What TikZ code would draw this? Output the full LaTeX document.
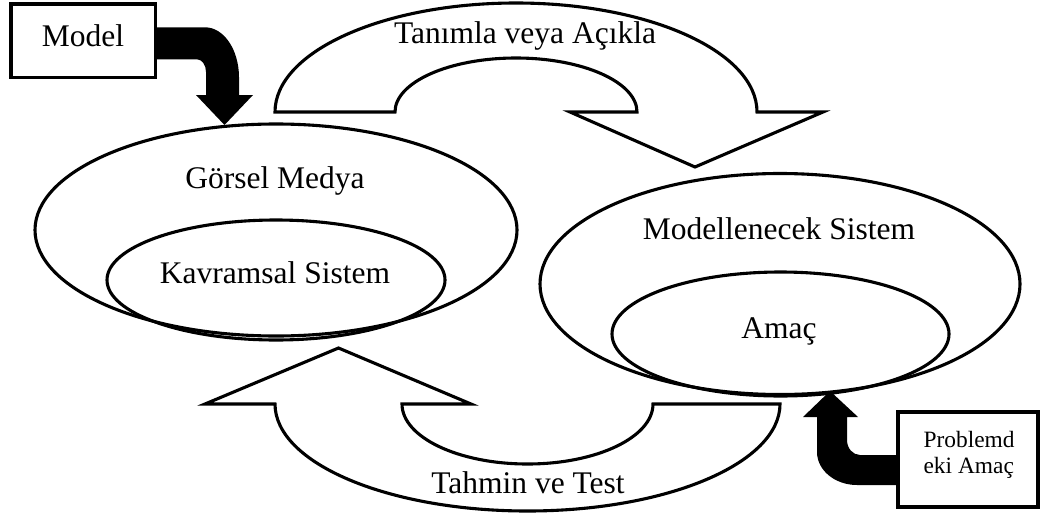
\documentclass[tikz,border=0pt]{standalone}
\usepackage{fontspec}
\setmainfont{Liberation Serif}
\usetikzlibrary{shapes.geometric}
\begin{document}
\begin{tikzpicture}[x=1pt,y=-1pt,line width=3.1pt,
  big/.style={font=\fontsize{31.5}{36}\selectfont, inner sep=0, anchor=base},
  small/.style={font=\fontsize{23.4}{26}\selectfont, inner sep=0, anchor=base west},
  oval/.style={ellipse, draw, inner sep=0, outer sep=0},
  frame/.style={rectangle, draw, inner sep=0},
  band/.style={draw, line join=miter},
  fat/.style={fill=black, draw=none}]
\useasboundingbox (0,0) rectangle (1040,514);

% ellipses
\node[oval, minimum width=482pt, minimum height=212pt] (medya) at (276,230) {};
\node[oval, minimum width=338pt, minimum height=120pt] (kavram) at (276,280) {};
\node[oval, minimum width=480pt, minimum height=221pt] (sistem) at (780,284) {};
\node[oval, minimum width=337pt, minimum height=124pt] (amac) at (780.5,334) {};

% curved block arrows
\draw[band] (275,112) arc[start angle=180,end angle=0,x radius=241pt,y radius=109pt]
  -- (823,112) -- (695,167) -- (570,112) -- (637,112)
  arc[start angle=0,end angle=180,x radius=121pt,y radius=54pt] -- cycle;
\draw[band] (275,404) arc[start angle=180,end angle=360,x radius=252.5pt,y radius=107pt]
  -- (653,404) arc[start angle=0,end angle=-180,x radius=125.5pt,y radius=60pt]
  -- (471,404) -- (338.5,348) -- (205,404) -- cycle;

% black bent arrows
\fill[fat] (155.5,27.3) -- (205,27.3) arc[start angle=90,end angle=0,x radius=34pt,y radius=50pt]
  -- (239,95) -- (253,95) -- (224.5,125) -- (196,95) -- (206,95) -- (206,72)
  arc[start angle=0,end angle=90,x radius=9pt,y radius=12.7pt] -- (155.5,59.3) -- cycle;
\fill[fat] (898,455) -- (860,455) arc[start angle=270,end angle=180,x radius=13pt,y radius=15pt]
  -- (847,417) -- (858,417) -- (830,391) -- (803,417) -- (817,417) -- (817,452)
  arc[start angle=180,end angle=270,x radius=40pt,y radius=33pt] -- (898,485) -- cycle;

% boxes
\node[frame, minimum width=144.5pt, minimum height=73.5pt] (modelbox) at (83.25,40.75) {};
\node[frame, minimum width=140pt, minimum height=95pt] (probbox) at (968,459.5) {};

% texts
\node[big] (tmodel) at (83,46) {Model};
\node[big] (ttanim) at (525,43) {Tanımla veya Açıkla};
\node[big] (tgorsel) at (275,188) {Görsel Medya};
\node[big] (tkavram) at (275,283) {Kavramsal Sistem};
\node[big] (tmodsis) at (779,239) {Modellenecek Sistem};
\node[big] (tamac) at (779,338) {Amaç};
\node[big] (ttahmin) at (528,493) {Tahmin ve Test};
\node[small] (tprob1) at (922,447) {Problemd};
\node[small] (tprob2) at (922,473) {eki Amaç};
\end{tikzpicture}
\end{document}
